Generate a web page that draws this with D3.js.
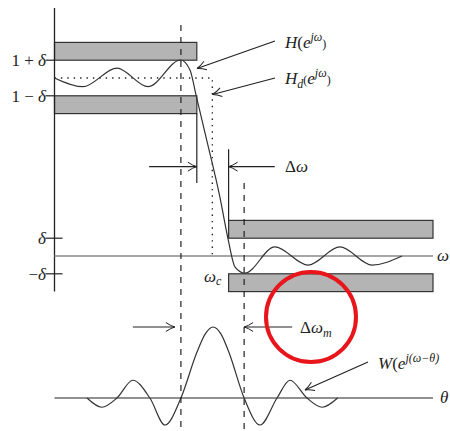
<!DOCTYPE html>
<html>
<head>
<meta charset="utf-8">
<script src="https://cdn.jsdelivr.net/npm/d3@7"></script>
<style>
  body { margin: 0; background: #fff; }
  text { font-family: "Liberation Serif", "DejaVu Serif", serif; fill: #222; }
</style>
</head>
<body>
<svg id="chart" width="450" height="431"></svg>
<script>
// filter spec (omega normalised to [0,1], amplitude in linear units)
const delta = 0.1;
const omegaP = 0.376;
const omegaC = 0.417;
const omegaS = 0.46;
const mainLobe = [0.334, 0.501]; // zeros of the window main lobe

// H(e^jw): [omega, amplitude]
const hOmega = [0, 0.075, 0.165, 0.247, 0.333, 0.358, 0.374, 0.402, 0.437, 0.458, 0.477, 0.503, 0.582, 0.67, 0.754, 0.839, 0.918];
const hValue = [1.0, 0.951, 1.056, 0.951, 1.101, 1.045, 0.904, 0.652, 0.331, 0.101, -0.062, -0.096, 0.051, -0.051, 0.051, -0.051, 0];

// W(e^j(w-theta)): [theta, amplitude]
const wTheta = [0.086, 0.125, 0.165, 0.207, 0.252, 0.292, 0.334, 0.376, 0.398, 0.419, 0.44, 0.461, 0.501, 0.543, 0.588, 0.622, 0.667, 0.707, 0.748];
const wValue = [0, -0.13, 0, 0.25, 0, -0.38, 0, 0.64, 0.9, 1, 0.9, 0.64, 0, -0.38, 0, 0.25, 0, -0.13, 0];

const svg = d3.select("#chart");
const ink = "#222";

const x = d3.scaleLinear().domain([0, 1]).range([54.5, 433]);
const y = d3.scaleLinear().domain([0, 1]).range([256, 78]);
const yW = d3.scaleLinear().domain([0, 1]).range([398, 327]);

// arrow head like latex "->"
svg.append("defs").append("marker")
  .attr("id", "arr")
  .attr("viewBox", "-10 -6 12 12")
  .attr("refX", 0).attr("refY", 0)
  .attr("markerWidth", 12).attr("markerHeight", 12)
  .attr("markerUnits", "userSpaceOnUse")
  .attr("orient", "auto")
  .append("path")
  .attr("d", "M-9,-4.5 Q-4,-1 0,0 Q-4,1 -9,4.5")
  .attr("fill", "none")
  .attr("stroke", ink)
  .attr("stroke-width", 1);

// tolerance boxes
const boxes = [
  [0, omegaP, 1 + delta, 1 + 2 * delta],
  [0, omegaP, 1 - 2 * delta, 1 - delta],
  [omegaS, 1, delta, 2 * delta],
  [omegaS, 1, -2 * delta, -delta],
];
svg.append("g").selectAll("rect")
  .data(boxes)
  .join("rect")
  .attr("x", (d) => x(d[0]))
  .attr("y", (d) => y(d[3]))
  .attr("width", (d) => x(d[1]) - x(d[0]))
  .attr("height", (d) => y(d[2]) - y(d[3]))
  .attr("fill", "#b4b4b4")
  .attr("stroke", "#333")
  .attr("stroke-width", 1.2);

// axes
svg.append("line")
  .attr("x1", x(0)).attr("x2", x(0))
  .attr("y1", 8).attr("y2", y(-2 * delta))
  .attr("stroke", ink).attr("stroke-width", 1.3);
svg.append("line")
  .attr("x1", x(0)).attr("x2", x(1))
  .attr("y1", y(0)).attr("y2", y(0))
  .attr("stroke", "#8a8a8a").attr("stroke-width", 1.4);
svg.append("line")
  .attr("x1", x(0)).attr("x2", x(1))
  .attr("y1", yW(0)).attr("y2", yW(0))
  .attr("stroke", ink).attr("stroke-width", 1.2);

// ticks on the amplitude axis
const ticks = [
  { v: 1 + delta, label: ["1 + ", "δ"], right: 0 },
  { v: 1 - delta, label: ["1 − ", "δ"], right: 0 },
  { v: delta, label: ["", "δ"], right: 8 },
  { v: -delta, label: ["−", "δ"], right: 8 },
];
ticks.forEach((t) => {
  svg.append("line")
    .attr("x1", x(0) - 9).attr("x2", x(0) + t.right)
    .attr("y1", y(t.v)).attr("y2", y(t.v))
    .attr("stroke", ink).attr("stroke-width", 1.2);
  const tx = svg.append("text")
    .attr("x", x(0) - 8.5).attr("y", y(t.v) + 6)
    .attr("text-anchor", "end")
    .attr("font-size", 17);
  tx.append("tspan").text(t.label[0]);
  tx.append("tspan").attr("font-style", "italic").text(t.label[1]);
});

// ideal response H_d (dotted)
svg.append("path")
  .attr("d", d3.line()([[x(0), y(1)], [x(omegaC), y(1)], [x(omegaC), y(0)]]))
  .attr("fill", "none")
  .attr("stroke", ink)
  .attr("stroke-width", 1.4)
  .attr("stroke-dasharray", "1.4,5");

// dashed main lobe markers
svg.append("line")
  .attr("x1", x(mainLobe[0])).attr("x2", x(mainLobe[0]))
  .attr("y1", 25).attr("y2", 431)
  .attr("stroke", ink).attr("stroke-width", 1.2)
  .attr("stroke-dasharray", "6,6");
svg.append("line")
  .attr("x1", x(mainLobe[1])).attr("x2", x(mainLobe[1]))
  .attr("y1", 183).attr("y2", 431)
  .attr("stroke", ink).attr("stroke-width", 1.2)
  .attr("stroke-dasharray", "6,6");

// transition band edges
svg.append("line")
  .attr("x1", x(omegaP)).attr("x2", x(omegaP))
  .attr("y1", y(1 - 2 * delta)).attr("y2", y(0.41))
  .attr("stroke", ink).attr("stroke-width", 1.2);
svg.append("line")
  .attr("x1", x(omegaS)).attr("x2", x(omegaS))
  .attr("y1", y(0.6)).attr("y2", y(2 * delta))
  .attr("stroke", ink).attr("stroke-width", 1.2);

// H curve
const hLine = d3.line()
  .x((d) => x(d[0]))
  .y((d) => y(d[1]))
  .curve(d3.curveMonotoneX);
svg.append("path")
  .attr("d", hLine(hOmega.map((o, i) => [o, hValue[i]])))
  .attr("fill", "none")
  .attr("stroke", "#333")
  .attr("stroke-width", 1.2);

// W curve
const wLine = d3.line()
  .x((d) => x(d[0]))
  .y((d) => yW(d[1]))
  .curve(d3.curveMonotoneX);
svg.append("path")
  .attr("d", wLine(wTheta.map((o, i) => [o, wValue[i]])))
  .attr("fill", "none")
  .attr("stroke", "#333")
  .attr("stroke-width", 1.2);

// arrows
function arrow(x1, y1, x2, y2) {
  svg.append("line")
    .attr("x1", x1).attr("y1", y1)
    .attr("x2", x2).attr("y2", y2)
    .attr("stroke", ink).attr("stroke-width", 1.2)
    .attr("marker-end", "url(#arr)");
}
arrow(x(0.25), y(0.502), x(omegaP), y(0.502));
arrow(x(0.582), y(0.502), x(omegaS), y(0.502));
arrow(x(0.207), yW(1), x(0.318), yW(1));
arrow(x(0.628), yW(1), x(mainLobe[1]), yW(1));
arrow(275, 41, 197, 68.5);
arrow(275, 78, 212.5, 94.5);
arrow(368, 362, 305, 390);

// labels
function label(px, py, parts, size) {
  const t = svg.append("text")
    .attr("x", px).attr("y", py)
    .attr("font-size", size || 17);
  parts.forEach((p) => {
    const s = t.append("tspan").text(p.t);
    if (p.i) s.attr("font-style", "italic");
    if (p.sup) s.attr("font-size", 12).attr("dy", p.sup);
    if (p.sub) s.attr("font-size", 12).attr("dy", p.sub);
  });
}
label(285, 48, [
  { t: "H", i: 1 }, { t: "(" }, { t: "e", i: 1 },
  { t: "jω", i: 1, sup: -7 }, { t: ")", sup: 7 },
]);
label(285, 84, [
  { t: "H", i: 1 }, { t: "d", i: 1, sub: 4 }, { t: "(", sub: -4 }, { t: "e", i: 1 },
  { t: "jω", i: 1, sup: -7 }, { t: ")", sup: 7 },
]);
label(285, 172, [{ t: "Δ" }, { t: "ω", i: 1 }]);
label(300, 333, [{ t: "Δ" }, { t: "ω", i: 1 }, { t: "m", i: 1, sub: 4 }]);
label(204, 282, [{ t: "ω", i: 1 }, { t: "c", i: 1, sub: 3 }]);
label(437, 261, [{ t: "ω", i: 1 }]);
label(440, 403, [{ t: "θ", i: 1 }]);
label(378, 369, [
  { t: "W", i: 1 }, { t: "(" }, { t: "e", i: 1 },
  { t: "j(ω−θ)", i: 1, sup: -7 },
]);

// red highlight circle
svg.append("circle")
  .attr("cx", 311).attr("cy", 317).attr("r", 45)
  .attr("fill", "none")
  .attr("stroke", "#e8151b")
  .attr("stroke-width", 4);
</script>
</body>
</html>
